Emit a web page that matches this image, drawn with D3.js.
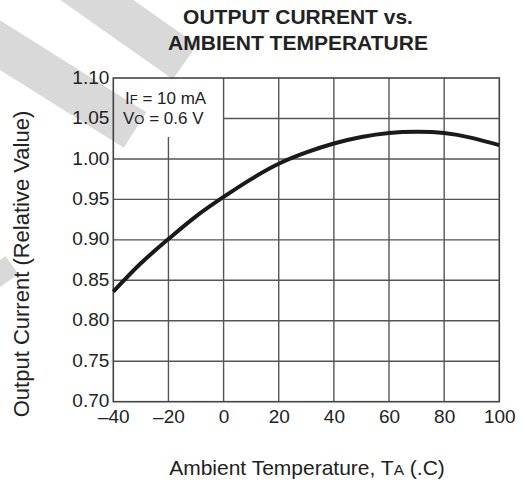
<!DOCTYPE html>
<html><head><meta charset="utf-8">
<script src="https://cdn.jsdelivr.net/npm/d3@7"></script>
<style>html,body{margin:0;padding:0;background:#fff;}svg{display:block;font-family:"Liberation Sans",Arial,sans-serif;}</style>
</head><body>
<svg id="c" width="523" height="480"></svg>
<script>
const temps = [-40, -30, -20, -10, 0, 10, 20, 30, 40, 50, 60, 70, 80, 90, 100];
const current = [0.836, 0.871, 0.901, 0.929, 0.953, 0.975, 0.994, 1.008, 1.019, 1.027, 1.032, 1.0335, 1.032, 1.026, 1.017];
const xTicks = [-40, -20, 0, 20, 40, 60, 80, 100];
const yTicks = [0.70, 0.75, 0.80, 0.85, 0.90, 0.95, 1.00, 1.05, 1.10];
const titleLines = ["OUTPUT CURRENT vs.", "AMBIENT TEMPERATURE"];

const svg = d3.select("#c");
const x = d3.scaleLinear().domain([-40, 100]).range([113.3, 499.3]);
const y = d3.scaleLinear().domain([0.70, 1.10]).range([401.7, 78]);

// watermark bands
const wm = svg.append("g").attr("stroke", "#d9d9d9").attr("stroke-linecap", "butt").attr("fill", "none");
wm.append("line").attr("x1", 40).attr("y1", -40).attr("x2", 185).attr("y2", 62).attr("stroke-width", 42);
wm.append("line").attr("x1", -40).attr("y1", 20).attr("x2", 135).attr("y2", 130).attr("stroke-width", 42);
wm.append("line").attr("x1", -30).attr("y1", 295).attr("x2", 12).attr("y2", 265).attr("stroke-width", 22);

const txt = "#222";

// title
svg.append("g").selectAll("text").data(titleLines).join("text")
  .attr("x", 298).attr("y", (d, i) => 24 + i * 26)
  .attr("text-anchor", "middle").attr("font-weight", "bold").attr("font-size", 21)
  .attr("fill", txt).text(d => d);

const gridColor = "#555";
const g = svg.append("g");
g.selectAll("line.v").data(xTicks.slice(1, -1)).join("line").attr("class", "v")
  .attr("x1", d => x(d)).attr("x2", d => x(d))
  .attr("y1", d => d === -20 ? y(1.027) : y(1.10)).attr("y2", y(0.70))
  .attr("stroke", gridColor).attr("stroke-width", 1.4);
g.selectAll("line.h").data(yTicks.slice(1, -1)).join("line").attr("class", "h")
  .attr("y1", d => y(d)).attr("y2", d => y(d))
  .attr("x1", d => d === 1.05 ? x(0) : x(-40)).attr("x2", x(100))
  .attr("stroke", gridColor).attr("stroke-width", 1.4);
g.append("rect").attr("x", x(-40)).attr("y", y(1.10))
  .attr("width", x(100) - x(-40)).attr("height", y(0.70) - y(1.10))
  .attr("fill", "none").attr("stroke", "#444").attr("stroke-width", 1.6);

const yAxis = d3.axisLeft(y).tickValues(yTicks).tickFormat(d3.format(".2f")).tickSize(0).tickPadding(4);
const ya = svg.append("g").attr("transform", `translate(${x(-40)},-1)`).call(yAxis);
ya.select(".domain").remove();
ya.selectAll("text").attr("font-size", 19).attr("fill", txt).attr("font-family", "Liberation Sans, Arial, sans-serif");

const xAxis = d3.axisBottom(x).tickValues(xTicks).tickFormat(d => d < 0 ? "\u2013" + Math.abs(d) : d).tickSize(0).tickPadding(8);
const xa = svg.append("g").attr("transform", `translate(0,${y(0.70)})`).call(xAxis);
xa.select(".domain").remove();
xa.selectAll("text").attr("font-size", 19).attr("fill", txt).attr("font-family", "Liberation Sans, Arial, sans-serif");

const line = d3.line().x((d, i) => x(temps[i])).y(d => y(d)).curve(d3.curveNatural);
svg.append("path").datum(current).attr("d", line)
  .attr("fill", "none").attr("stroke", "#1a1a1a").attr("stroke-width", 4);

const ann = svg.append("g").attr("font-size", 17).attr("fill", txt);
const t1 = ann.append("text").attr("x", 125).attr("y", 104);
t1.append("tspan").text("I");
t1.append("tspan").attr("font-size", 13).text("F");
t1.append("tspan").text(" = 10 mA");
const t2 = ann.append("text").attr("x", 123).attr("y", 123.5);
t2.append("tspan").text("V");
t2.append("tspan").attr("font-size", 13).text("O");
t2.append("tspan").text(" = 0.6 V");

const xt = svg.append("text").attr("x", 307).attr("y", 475).attr("text-anchor", "middle")
  .attr("font-size", 21).attr("fill", txt);
xt.append("tspan").text("Ambient Temperature, T");
xt.append("tspan").attr("font-size", 15.5).text("A");
xt.append("tspan").text(" (.C)");

svg.append("text").attr("transform", "translate(29,264) rotate(-90)").attr("text-anchor", "middle")
  .attr("font-size", 22).attr("fill", txt).text("Output Current (Relative Value)");
</script>
</body></html>
